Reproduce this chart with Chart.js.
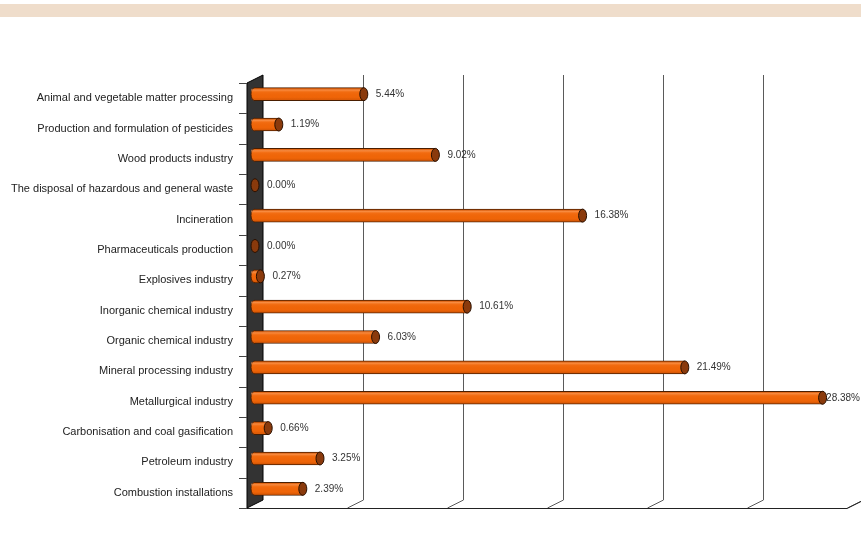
<!DOCTYPE html>
<html>
<head>
<meta charset="utf-8">
<script src="https://cdn.jsdelivr.net/npm/chart.js@4.4.1/dist/chart.umd.min.js"></script>
<style>
  body { margin: 0; background: #fff; }
  #wrap { position: relative; width: 861px; height: 545px; }
  #band { position: absolute; left: 0; top: 4px; width: 861px; height: 13px; background: #efddcb; }
  canvas { position: absolute; left: 0; top: 0; }
</style>
</head>
<body>
<div id="wrap">
  <canvas id="chart" width="861" height="545"></canvas>
  <div id="band"></div>
</div>
<script>
'use strict';

// ── Data ─────────────────────────────────────────────────────────────────────

const categories = [
  'Animal and vegetable matter processing',
  'Production and formulation of pesticides',
  'Wood products industry',
  'The disposal of hazardous and general waste',
  'Incineration',
  'Pharmaceuticals production',
  'Explosives industry',
  'Inorganic chemical industry',
  'Organic chemical industry',
  'Mineral processing industry',
  'Metallurgical industry',
  'Carbonisation and coal gasification',
  'Petroleum industry',
  'Combustion installations'
];

const shares = [5.44, 1.19, 9.02, 0.00, 16.38, 0.00, 0.27, 10.61, 6.03, 21.49, 28.38, 0.66, 3.25, 2.39];

const gridSteps = [0, 5, 10, 15, 20, 25, 30];

// depth offset of the 3D box (bars sit half way between front and back)
const DX = 8;
const DY = 4;

// ── Wall, floor and gridlines ────────────────────────────────────────────────

const box3d = {
  id: 'box3d',
  beforeDatasetsDraw(chart) {
    const { ctx, chartArea: a, scales: { x } } = chart;
    const x0 = x.getPixelForValue(0);
    const xEnd = x.getPixelForValue(gridSteps[gridSteps.length - 1]);
    ctx.save();
    ctx.lineWidth = 1;

    // back gridlines, bending forward along the floor
    ctx.strokeStyle = '#5a5a5a';
    for (const v of gridSteps.slice(1)) {
      const px = Math.round(x.getPixelForValue(v)) + 0.5;
      ctx.beginPath();
      ctx.moveTo(px + DX, a.top - DY);
      ctx.lineTo(px + DX, a.bottom - DY);
      ctx.lineTo(px - DX, a.bottom + DY);
      ctx.stroke();
    }

    // front edge of the floor
    ctx.strokeStyle = '#222';
    ctx.beginPath();
    ctx.moveTo(x0 - DX, a.bottom + DY + 0.5);
    ctx.lineTo(xEnd - DX, a.bottom + DY + 0.5);
    ctx.lineTo(xEnd + DX, a.bottom - DY + 0.5);
    ctx.stroke();

    // dark side wall
    ctx.fillStyle = '#333';
    ctx.strokeStyle = '#000';
    ctx.beginPath();
    ctx.moveTo(x0 - DX, a.top + DY);
    ctx.lineTo(x0 + DX, a.top - DY);
    ctx.lineTo(x0 + DX, a.bottom - DY);
    ctx.lineTo(x0 - DX, a.bottom + DY);
    ctx.closePath();
    ctx.fill();
    ctx.stroke();

    // category tick marks on the wall's front edge
    const band = (a.bottom - a.top) / categories.length;
    ctx.strokeStyle = '#444';
    for (let i = 0; i <= categories.length; i++) {
      const y = Math.round(a.top + i * band + DY) + 0.5;
      ctx.beginPath();
      ctx.moveTo(x0 - DX - 8, y);
      ctx.lineTo(x0 - DX, y);
      ctx.stroke();
    }
    ctx.restore();
  }
};

// ── Cylinder shading, end caps and value labels ──────────────────────────────

const cylinders = {
  id: 'cylinders',
  afterDatasetsDraw(chart) {
    const { ctx } = chart;
    const meta = chart.getDatasetMeta(0);
    ctx.save();
    meta.data.forEach((bar, i) => {
      const h = bar.height;
      const top = bar.y - h / 2;
      const rx = 4;
      const ry = h / 2;
      const len = bar.x - bar.base;

      if (len > 0) {
        // rounded near end
        ctx.fillStyle = '#ef6508';
        ctx.strokeStyle = '#4a1e00';
        ctx.beginPath();
        ctx.ellipse(bar.base, bar.y, rx, ry, 0, Math.PI / 2, Math.PI * 1.5);
        ctx.fill();
        ctx.stroke();

        // highlight and shadow along the body
        const g = ctx.createLinearGradient(0, top, 0, top + h);
        g.addColorStop(0, 'rgba(140,50,0,0.35)');
        g.addColorStop(0.18, 'rgba(255,170,110,0.55)');
        g.addColorStop(0.35, 'rgba(255,140,60,0.15)');
        g.addColorStop(0.7, 'rgba(230,90,0,0)');
        g.addColorStop(1, 'rgba(120,40,0,0.45)');
        ctx.fillStyle = g;
        ctx.fillRect(bar.base - rx, top + 1, len + rx, h - 2);
      }

      // far end cap
      ctx.fillStyle = '#8a3a0c';
      ctx.strokeStyle = '#2a1000';
      ctx.beginPath();
      ctx.ellipse(bar.x, bar.y, rx, ry, 0, 0, Math.PI * 2);
      ctx.fill();
      ctx.stroke();

      // value label
      const text = shares[i].toFixed(2) + '%';
      ctx.font = '10px "Liberation Sans", Arial, sans-serif';
      ctx.fillStyle = '#333';
      ctx.textBaseline = 'middle';
      ctx.textAlign = 'left';
      const w = ctx.measureText(text).width;
      const lx = Math.min(bar.x + rx + 8, chart.width - w - 1);
      ctx.fillText(text, lx, bar.y);
    });
    ctx.restore();
  }
};

// ── Chart ────────────────────────────────────────────────────────────────────

new Chart(document.getElementById('chart'), {
  type: 'bar',
  data: {
    labels: categories,
    datasets: [{
      data: shares,
      backgroundColor: '#ef6508',
      borderColor: '#4a1e00',
      borderWidth: 1,
      borderSkipped: 'start',
      barThickness: 13
    }]
  },
  options: {
    indexAxis: 'y',
    responsive: false,
    animation: false,
    layout: { padding: { top: 79, bottom: 41, left: 0, right: 6 } },
    plugins: { legend: { display: false }, tooltip: { enabled: false } },
    scales: {
      x: { display: false, min: 0, max: 30 },
      y: {
        grid: { display: false, drawTicks: false },
        border: { display: false },
        ticks: {
          color: '#222',
          padding: 22,
          labelOffset: 4,
          autoSkip: false,
          font: { family: '"Liberation Sans", Arial, sans-serif', size: 11 }
        },
        afterFit(scale) { scale.width = 255; }
      }
    }
  },
  plugins: [box3d, cylinders]
});
</script>
</body>
</html>
